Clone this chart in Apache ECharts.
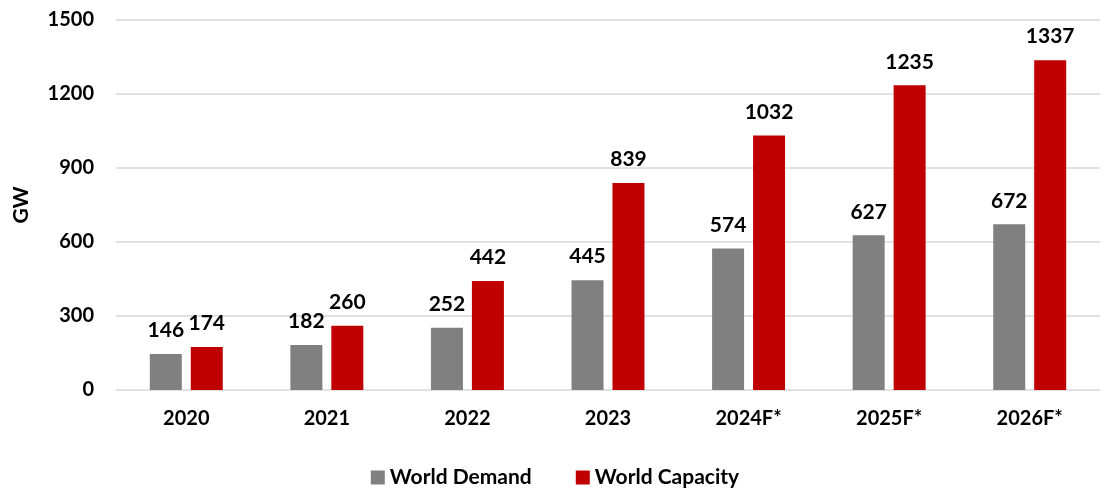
<!DOCTYPE html>
<html><head><meta charset="utf-8">
<script src="https://cdn.jsdelivr.net/npm/echarts@6/dist/echarts.min.js"></script>
<style>html,body{margin:0;padding:0;background:#fff}#c{width:1110px;height:488px}</style>
</head><body><div id="c"></div>
<script>
const categories = ['2020','2021','2022','2023','2024F*','2025F*','2026F*'];
const worldDemand = [146,182,252,445,574,627,672];
const worldCapacity = [174,260,442,839,1032,1235,1337];
const yTicks = [0,300,600,900,1200,1500];

const FONT = 'Lato, "Open Sans", sans-serif';
const chart = echarts.init(document.getElementById('c'));
const lbl = {show:true, position:'top', distance:13, fontFamily:FONT, fontWeight:'bold', fontSize:21, color:'#000'};
chart.setOption({
  animation:false,
  textStyle:{fontFamily:FONT},
  grid:{left:116, right:10, top:20, bottom:98, containLabel:false},
  legend:{top:462, left:'center', itemWidth:14, itemHeight:14, itemGap:44, icon:'rect',
    textStyle:{fontFamily:FONT, fontWeight:'bold', fontSize:21, color:'#000'},
    data:['World Demand','World Capacity']},
  xAxis:{type:'category', data:categories, axisLine:{show:false}, axisTick:{show:false},
    axisLabel:{margin:19, fontFamily:FONT, fontWeight:'bold', fontSize:20, color:'#000'}},
  yAxis:{type:'value', min:yTicks[0], max:yTicks[yTicks.length-1], interval:300,
    name:'GW', nameLocation:'middle', nameGap:84, nameRotate:90,
    nameTextStyle:{fontFamily:FONT, fontWeight:'bold', fontSize:21, color:'#000'},
    axisLabel:{margin:22, fontFamily:FONT, fontWeight:'bold', fontSize:20, color:'#000', formatter:v=>String(v)},
    splitLine:{lineStyle:{color:'#d9d9d9', width:1.5}}, axisLine:{show:false}, axisTick:{show:false}},
  series:[
    {name:'World Demand', type:'bar', data:worldDemand, barWidth:32, barGap:'28%', itemStyle:{color:'#808080'}, label:lbl},
    {name:'World Capacity', type:'bar', data:worldCapacity, barWidth:32, itemStyle:{color:'#C00000'}, label:lbl}
  ]
});
</script></body></html>
